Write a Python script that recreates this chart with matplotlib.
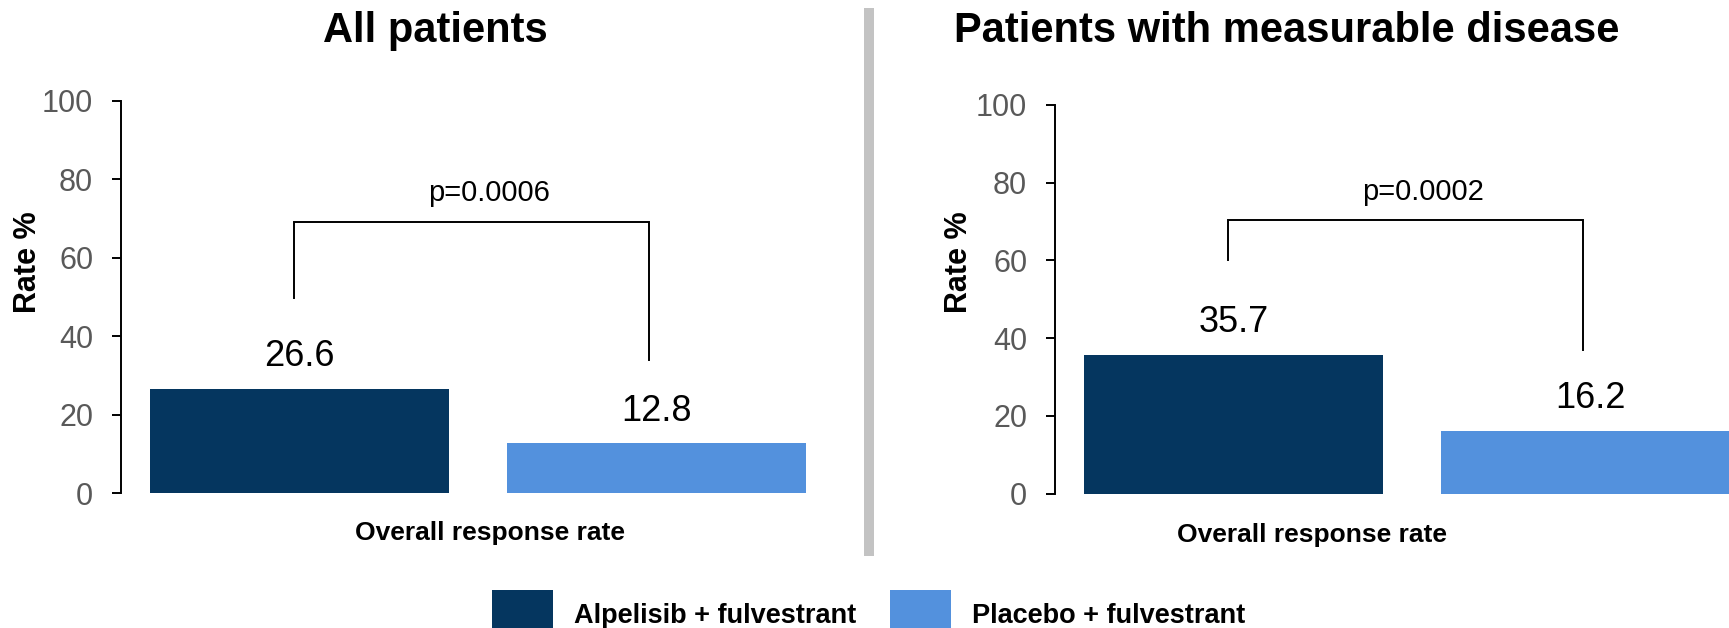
import matplotlib
matplotlib.use("Agg")
import matplotlib.pyplot as plt
from matplotlib.patches import Patch, Rectangle

plt.rcParams['font.family'] = ['Liberation Sans', 'DejaVu Sans']

# ---- data ----
panel_titles = ["All patients", "Patients with measurable disease"]
series_names = ["Alpelisib + fulvestrant", "Placebo + fulvestrant"]
alpelisib_rates = [26.6, 35.7]
placebo_rates = [12.8, 16.2]
p_values = ["p=0.0006", "p=0.0002"]
category_label = "Overall response rate"
y_ticks = [0, 20, 40, 60, 80, 100]

colors = ["#05365F", "#5391DD"]

W, H = 1729, 628
fig = plt.figure(figsize=(W / 100, H / 100), dpi=100)


def px_axes(left, top, width, height):
    """Axes placed in pixel units measured from the top-left corner."""
    return fig.add_axes([left / W, (H - top - height) / H, width / W, height / H])


# panel geometry (pixels) and bracket layout (data units)
panels = [
    dict(left=121, top=100.7, height=392.6, bracket=(69.0, 49.7, 34.0), ptext_y=76.6,
         ylab=(-0.13, 0.589), xlab=(0.517, -0.101), title_x=435),
    dict(left=1055, top=105.0, height=388.7, bracket=(70.4, 60.1, 37.0), ptext_y=77.7,
         ylab=(-0.134, 0.596), xlab=(0.36, -0.106), title_x=1287),
]

bar_w = 0.835
for i, pan in enumerate(panels):
    ax = px_axes(pan['left'], pan['top'], 714, pan['height'])
    vals = [alpelisib_rates[i], placebo_rates[i]]
    xs = [0, 1]
    ax.bar(xs, vals, width=bar_w, color=colors, zorder=2)
    ax.set_xlim(-0.5, 1.5)
    ax.set_ylim(0, 100)
    ax.set_yticks(y_ticks)
    ax.set_xticks([])
    for s in ['top', 'right', 'bottom']:
        ax.spines[s].set_visible(False)
    ax.spines['left'].set_linewidth(1.4)
    ax.spines['left'].set_color('black')
    ax.tick_params(axis='y', length=6.5, width=1.4, color='black', pad=13.5,
                   labelsize=22, labelcolor='#595959')

    for x, v in zip(xs, vals):
        ax.annotate(f"{v:.1f}", xy=(x, v), xytext=(0, 23), textcoords='offset points',
                    ha='center', va='center', fontsize=26, color='black')

    top, l_leg, r_leg = pan['bracket']
    bx0, bx1 = -0.015, 0.98
    ax.plot([bx0, bx0, bx1, bx1], [l_leg, top, top, r_leg], color='black', lw=1.4,
            solid_joinstyle='miter', zorder=3)
    ax.text(0.53, pan['ptext_y'], p_values[i], ha='center', va='center', fontsize=21)

    ax.set_ylabel("Rate %", fontsize=22, fontweight='bold')
    ax.yaxis.set_label_coords(*pan['ylab'])
    ax.yaxis.label.set_verticalalignment('center')
    ax.set_xlabel(category_label, fontsize=19, fontweight='bold')
    ax.xaxis.set_label_coords(*pan['xlab'])
    ax.xaxis.label.set_verticalalignment('center')

    fig.text(pan['title_x'] / W, 1 - 31 / H, panel_titles[i], ha='center', va='center',
             fontsize=30, fontweight='bold')

# vertical divider between the two panels
fig.add_artist(Rectangle((864 / W, 1 - 556 / H), 10 / W, 548 / H,
                         transform=fig.transFigure, facecolor='#C3C3C3', edgecolor='none'))

handles = [Patch(facecolor=c, edgecolor='none') for c in colors]
fig.legend(handles, series_names, loc='center left', bbox_to_anchor=(492 / W, 13 / H),
           ncol=2, frameon=False, borderpad=0, borderaxespad=0,
           handlelength=2.26, handleheight=2.5, handletextpad=0.78, columnspacing=1.22,
           prop=dict(size=19.5, weight='bold'))

fig.savefig("out.png", dpi=100)
